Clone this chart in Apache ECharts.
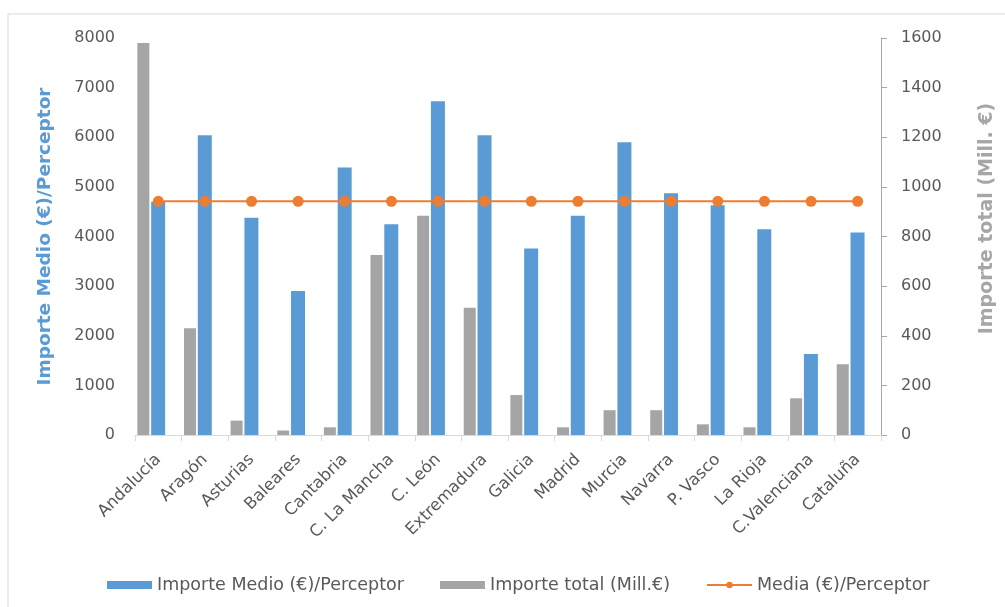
<!DOCTYPE html>
<html>
<head>
<meta charset="utf-8">
<script src="https://cdn.jsdelivr.net/npm/echarts@6/dist/echarts.min.js"></script>
<style>
html,body{margin:0;padding:0;background:#fff;}
#chart{width:1005px;height:607px;}
</style>
</head>
<body>
<div id="chart"></div>
<script>
const categories = ['Andalucía','Aragón','Asturias','Baleares','Cantabria','C. La Mancha','C. León','Extremadura','Galicia','Madrid','Murcia','Navarra','P. Vasco','La Rioja','C.Valenciana','Cataluña'];
const importeMedio = [4700,6040,4380,2900,5390,4245,6725,6040,3760,4420,5900,4870,4630,4145,1630,4080];
const importeTotal = [1580,430,58,18,31,725,884,513,161,31,100,100,43,31,148,285];
const mediaPerceptor = [4710,4710,4710,4710,4710,4710,4710,4710,4710,4710,4710,4710,4710,4710,4710,4710];
const leftTicks = {min:0,max:8000,interval:1000};
const rightTicks = {min:0,max:1600,interval:200};

const FONT = 'DejaVu Sans';
const plain = v => String(v);
const chart = echarts.init(document.getElementById('chart'));
chart.setOption({
  animation:false,
  backgroundColor:'#ffffff',
  graphic:[{type:'rect',shape:{x:8,y:14,width:1010,height:610},style:{fill:'none',stroke:'#d9d9d9',lineWidth:1},silent:true,z:-10}],
  grid:{left:135,right:122,top:38,bottom:172,containLabel:false},
  legend:{
    data:[{name:'Importe Medio (€)/Perceptor',icon:'rect'},{name:'Importe total (Mill.€)',icon:'rect'},{name:'Media (€)/Perceptor'}],
    left:102, top:571,
    itemWidth:45, itemHeight:8, itemGap:36,
    textStyle:{fontFamily:FONT,fontSize:17.5,color:'#595959'}
  },
  xAxis:{
    type:'category', data:categories, boundaryGap:true,
    axisLine:{lineStyle:{color:'#d9d9d9'}},
    axisTick:{show:true,alignWithLabel:false,length:6,lineStyle:{color:'#d9d9d9'}},
    axisLabel:{rotate:45,interval:0,margin:22,fontFamily:FONT,fontSize:16.5,color:'#595959'}
  },
  yAxis:[
    {type:'value',min:leftTicks.min,max:leftTicks.max,interval:leftTicks.interval,
     name:'Importe Medio (€)/Perceptor',nameLocation:'middle',nameGap:80,nameRotate:90,
     nameTextStyle:{fontFamily:FONT,fontSize:18.5,fontWeight:'bold',color:'#5b9bd5'},
     axisLine:{show:false},axisTick:{show:false},splitLine:{show:false},
     axisLabel:{margin:20,fontFamily:FONT,fontSize:16,color:'#595959',formatter:plain}},
    {type:'value',min:rightTicks.min,max:rightTicks.max,interval:rightTicks.interval,position:'right',
     name:'Importe total (Mill. €)',nameLocation:'middle',nameGap:97,nameRotate:90,
     nameTextStyle:{fontFamily:FONT,fontSize:19,fontWeight:'bold',color:'#a6a6a6',padding:[0,0,0,36]},
     axisLine:{show:true,lineStyle:{color:'#a6a6a6'}},axisTick:{show:true,inside:false,length:6,lineStyle:{color:'#a6a6a6'}},
     splitLine:{show:false},
     axisLabel:{margin:20,fontFamily:FONT,fontSize:16,color:'#595959',formatter:plain}}
  ],
  series:[
    {name:'Importe total (Mill.€)',type:'bar',yAxisIndex:1,data:importeTotal,barWidth:12,barGap:'15%',
     itemStyle:{color:'#a5a5a5',borderWidth:0}},
    {name:'Importe Medio (€)/Perceptor',type:'bar',yAxisIndex:0,data:importeMedio,barWidth:14,barGap:'15%',
     itemStyle:{color:'#5b9bd5',borderWidth:0}},
    {name:'_spacer',type:'bar',yAxisIndex:0,data:[],barWidth:12,barGap:'15%',silent:true},
    {name:'Media (€)/Perceptor',type:'line',yAxisIndex:0,data:mediaPerceptor,
     symbol:'circle',symbolSize:11,lineStyle:{color:'#ed7d31',width:2},itemStyle:{color:'#ed7d31',borderWidth:0},z:5}
  ]
});
</script>
</body>
</html>
